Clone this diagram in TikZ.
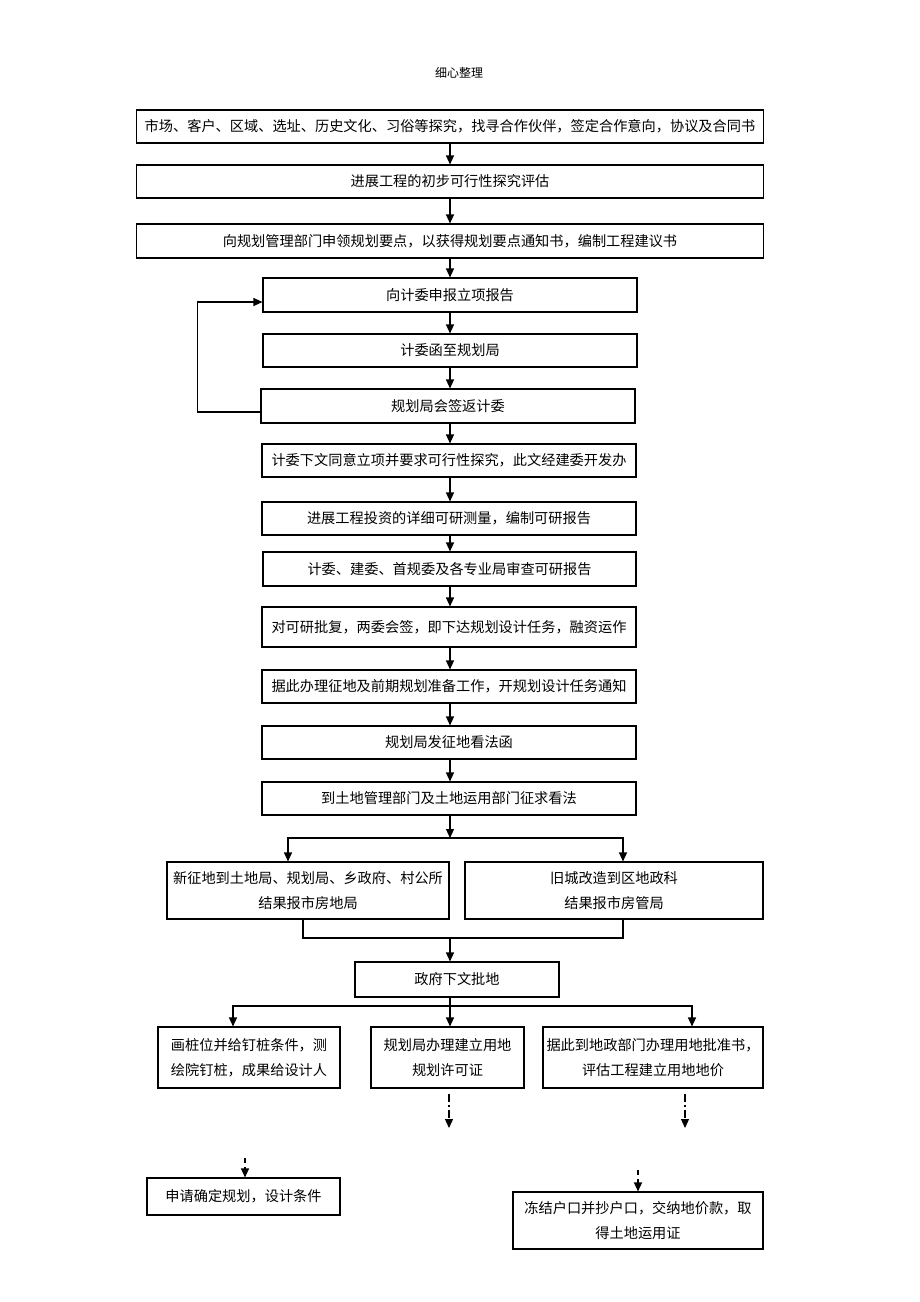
\documentclass[tikz,border=0pt]{standalone}
\usepackage{fontspec}
\setmainfont{Noto Sans CJK SC}
\usetikzlibrary{arrows.meta}
\begin{document}
\begin{tikzpicture}[x=1pt,y=-1pt,
  box/.style={draw, line width=1.1pt, inner sep=0pt, minimum height=33pt, align=center,
    font=\fontsize{14.2pt}{25pt}\selectfont},
  arr/.style={line width=1.1pt, -{Triangle[length=9pt,width=8pt]}},
  ln/.style={line width=1.1pt},
  dda/.style={arr, dash pattern=on 8pt off 3pt on 2pt off 3pt},
  sda/.style={arr, dash pattern=on 5pt off 4pt}]
\fill[white] (0,0) rectangle (920,1302);
\useasboundingbox (0,0) rectangle (920,1302);
\coordinate (cx) at (450,0);
\node[font=\fontsize{12pt}{14pt}\selectfont] (title) at (459,73) {细心整理};
\node[box, minimum width=627pt] (b1) at (450,126.5) {市场、客户、区域、选址、历史文化、习俗等探究，找寻合作伙伴，签定合作意向，协议及合同书};
\node[box, minimum width=627pt] (b2) at (450,181.5) {进展工程的初步可行性探究评估};
\node[box, minimum width=627pt, minimum height=34pt] (b3) at (450,241) {向规划管理部门申领规划要点，以获得规划要点通知书，编制工程建议书};
\node[box, minimum width=374pt, minimum height=34pt] (b4) at (450,295) {向计委申报立项报告};
\node[box, minimum width=374pt] (b5) at (450,350.5) {计委函至规划局};
\node[box, minimum width=374pt, minimum height=34pt] (b6) at (448,406) {规划局会签返计委};
\node[box, minimum width=374pt] (b7) at (449,460.5) {计委下文同意立项并要求可行性探究，此文经建委开发办};
\node[box, minimum width=374pt] (b8) at (449,518.5) {进展工程投资的详细可研测量，编制可研报告};
\node[box, minimum width=373pt, minimum height=34pt] (b9) at (449.5,569) {计委、建委、首规委及各专业局审查可研报告};
\node[box, minimum width=374pt, minimum height=40pt] (b10) at (449,627) {对可研批复，两委会签，即下达规划设计任务，融资运作};
\node[box, minimum width=374pt] (b11) at (449,686.5) {据此办理征地及前期规划准备工作，开规划设计任务通知};
\node[box, minimum width=374pt] (b12) at (449,742.5) {规划局发征地看法函};
\node[box, minimum width=374pt] (b13) at (449,798.5) {到土地管理部门及土地运用部门征求看法};
\foreach \a/\b in {b1/b2,b2/b3,b3/b4,b4/b5,b5/b6,b6/b7,b7/b8,b8/b9,b9/b10,b10/b11,b11/b12,b12/b13}
  \draw[arr] (\a.south -| cx) -- (\b.north -| cx);
\draw[arr] ([yshift=-6pt]b6.west) -- ++(-63pt,0) |- ([yshift=-7pt]b4.west);
% split into two
\node[box, minimum width=282pt, minimum height=57pt] (L) at (308,890.5) {新征地到土地局、规划局、乡政府、村公所\\结果报市房地局};
\node[box, minimum width=298pt, minimum height=57pt] (R) at (614,890.5) {旧城改造到区地政科\\结果报市房管局};
\coordinate (s1) at (450,838);
\coordinate (sl) at (288,0);
\coordinate (sr) at (623,0);
\draw[arr] (b13.south -| cx) -- (s1);
\draw[arr] (s1) -| (L.north -| sl);
\draw[arr] (s1) -| (R.north -| sr);
\node[box, minimum width=204pt, minimum height=35pt] (G) at (457,979.5) {政府下文批地};
\coordinate (m1) at (450,938);
\coordinate (ml) at (303,0);
\draw[ln] (L.south -| ml) |- (m1);
\draw[ln] (R.south -| sr) |- (m1);
\draw[arr] (m1) -- (G.north -| cx);
% split into three
\node[box, minimum width=182pt, minimum height=61pt] (A) at (249,1057.5) {画桩位并给钉桩条件，测\\绘院钉桩，成果给设计人};
\node[box, minimum width=153pt, minimum height=61pt] (B) at (447.5,1057.5) {规划局办理建立用地\\规划许可证};
\node[box, minimum width=220pt, minimum height=61pt] (C) at (653,1057.5) {据此到地政部门办理用地批准书，\\评估工程建立用地地价};
\coordinate (t1) at (450,1006);
\coordinate (ta) at (233,0);
\coordinate (tc) at (692,0);
\draw[arr] (G.south -| cx) -- (B.north -| cx);
\draw[arr] (t1) -| (A.north -| ta);
\draw[arr] (t1) -| (C.north -| tc);
\coordinate (db) at (449,1128);
\coordinate (dc) at (685,1128);
\draw[dda] ([yshift=-5pt]B.south -| db) -- (db);
\draw[dda] ([yshift=-5pt]C.south -| dc) -- (dc);
\node[box, minimum width=193pt, minimum height=37pt] (D) at (243.5,1196.5) {申请确定规划，设计条件};
\node[box, minimum width=250pt, minimum height=57pt] (E) at (638,1220.5) {冻结户口并抄户口，交纳地价款，取\\得土地运用证};
\coordinate (dd) at (245,1158);
\coordinate (de) at (638,1170);
\draw[sda] (dd) -- (D.north -| dd);
\draw[sda] (de) -- (E.north -| de);
\end{tikzpicture}
\end{document}
